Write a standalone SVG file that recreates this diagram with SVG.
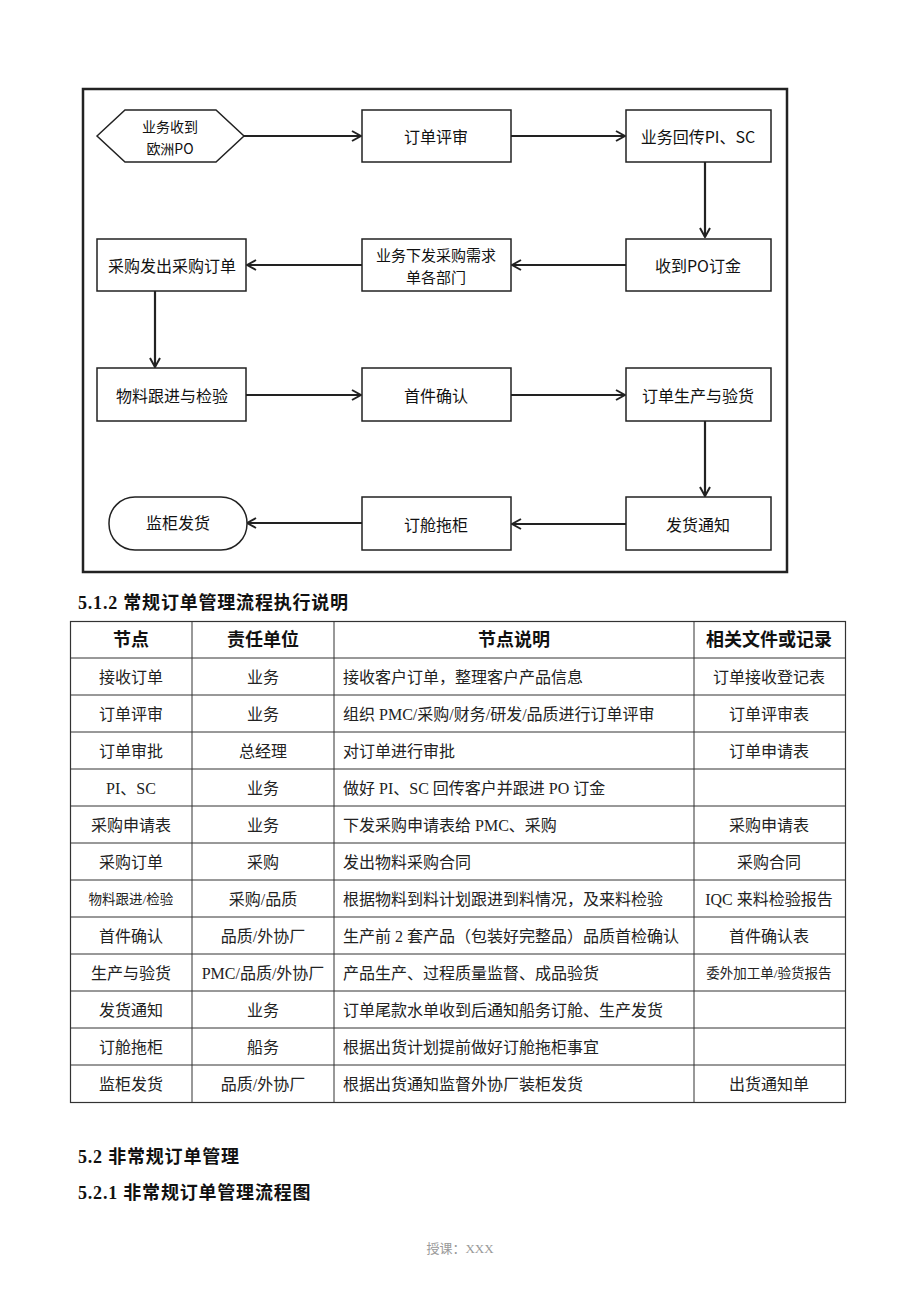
<svg xmlns="http://www.w3.org/2000/svg" width="920" height="1302" viewBox="0 0 920 1302">
<style>
.bx{fill:#fff;stroke:#222;stroke-width:1.5}
.t{font-family:"Noto Sans CJK SC","Liberation Sans",sans-serif;font-size:16px;fill:#111;text-anchor:middle;dominant-baseline:central}
.c{stroke:#222;stroke-width:2.2;fill:none}
.h{font-family:"Liberation Serif","Noto Sans CJK SC",serif;font-size:18px;font-weight:bold;fill:#111;letter-spacing:0.8px}
.th{font-family:"Liberation Serif","Noto Sans CJK SC",serif;font-size:18px;font-weight:bold;fill:#111;text-anchor:middle;dominant-baseline:central}
.td{font-family:"Liberation Serif","Noto Sans CJK SC",serif;font-size:16px;fill:#222;dominant-baseline:central}
.m{text-anchor:middle}
.s{font-size:13.5px}
.g{stroke:#333;stroke-width:1}
</style>
<defs>
<marker id="ah" viewBox="0 0 12 12" refX="11" refY="6" markerWidth="12" markerHeight="12" markerUnits="userSpaceOnUse" orient="auto">
<path d="M2,1 L11,6 L2,11" fill="none" stroke="#222" stroke-width="2"/>
</marker>
</defs>
<rect width="920" height="1302" fill="#fff"/>
<rect x="83" y="89" width="704" height="483" fill="none" stroke="#222" stroke-width="2.5"/>

<g id="connectors">
<line class="c" x1="244" y1="136" x2="361" y2="136" marker-end="url(#ah)"/>
<line class="c" x1="511" y1="136" x2="625" y2="136" marker-end="url(#ah)"/>
<line class="c" x1="705" y1="162" x2="705" y2="237" marker-end="url(#ah)"/>
<line class="c" x1="626" y1="265" x2="512" y2="265" marker-end="url(#ah)"/>
<line class="c" x1="362" y1="265" x2="247" y2="265" marker-end="url(#ah)"/>
<line class="c" x1="155" y1="291" x2="155" y2="367" marker-end="url(#ah)"/>
<line class="c" x1="246" y1="395" x2="361" y2="395" marker-end="url(#ah)"/>
<line class="c" x1="511" y1="395" x2="625" y2="395" marker-end="url(#ah)"/>
<line class="c" x1="705" y1="421" x2="705" y2="496" marker-end="url(#ah)"/>
<line class="c" x1="626" y1="524" x2="512" y2="524" marker-end="url(#ah)"/>
<line class="c" x1="362" y1="523" x2="247" y2="523" marker-end="url(#ah)"/>
</g>

<g id="n1"><polygon class="bx" points="97,136 125,110 216,110 244,136 216,162 125,162"/><text class="t" x="170" y="126" style="font-size:14px">业务收到</text><text class="t" x="170" y="148" style="font-size:14px">欧洲PO</text></g>
<g id="n2"><rect class="bx" x="362" y="110" width="149" height="52"/><text class="t" x="436" y="136">订单评审</text></g>
<g id="n3"><rect class="bx" x="626" y="110" width="145" height="52"/><text class="t" x="698" y="136">业务回传PI、SC</text></g>
<g id="n4"><rect class="bx" x="626" y="239" width="145" height="52"/><text class="t" x="698" y="265">收到PO订金</text></g>
<g id="n5"><rect class="bx" x="362" y="239" width="149" height="52"/><text class="t" x="436" y="254" style="font-size:15px">业务下发采购需求</text><text class="t" x="436" y="276" style="font-size:15px">单各部门</text></g>
<g id="n6"><rect class="bx" x="97" y="239" width="149" height="52"/><text class="t" x="172" y="265">采购发出采购订单</text></g>
<g id="n7"><rect class="bx" x="97" y="368" width="149" height="53"/><text class="t" x="172" y="395">物料跟进与检验</text></g>
<g id="n8"><rect class="bx" x="362" y="368" width="149" height="53"/><text class="t" x="436" y="395">首件确认</text></g>
<g id="n9"><rect class="bx" x="626" y="368" width="145" height="53"/><text class="t" x="698" y="395">订单生产与验货</text></g>
<g id="n10"><rect class="bx" x="626" y="497" width="145" height="53"/><text class="t" x="698" y="524">发货通知</text></g>
<g id="n11"><rect class="bx" x="362" y="497" width="149" height="53"/><text class="t" x="436" y="524">订舱拖柜</text></g>
<g id="n12"><rect class="bx" x="109" y="497" width="138" height="53" rx="26" ry="26"/><text class="t" x="178" y="522">监柜发货</text></g>

<text class="h" x="78" y="609">5.1.2 常规订单管理流程执行说明</text>

<g id="table">
<rect x="70.5" y="621.5" width="775" height="481" fill="none" stroke="#333" stroke-width="1.2"/>
<g class="g">
<line x1="192" y1="621" x2="192" y2="1102"/>
<line x1="334" y1="621" x2="334" y2="1102"/>
<line x1="694" y1="621" x2="694" y2="1102"/>
<line x1="70" y1="658" x2="845" y2="658"/>
<line x1="70" y1="695" x2="845" y2="695"/>
<line x1="70" y1="732" x2="845" y2="732"/>
<line x1="70" y1="769" x2="845" y2="769"/>
<line x1="70" y1="806" x2="845" y2="806"/>
<line x1="70" y1="843" x2="845" y2="843"/>
<line x1="70" y1="880" x2="845" y2="880"/>
<line x1="70" y1="917" x2="845" y2="917"/>
<line x1="70" y1="954" x2="845" y2="954"/>
<line x1="70" y1="991" x2="845" y2="991"/>
<line x1="70" y1="1028" x2="845" y2="1028"/>
<line x1="70" y1="1065" x2="845" y2="1065"/>
</g>
<text class="th" x="131" y="640">节点</text>
<text class="th" x="263" y="640">责任单位</text>
<text class="th" x="514" y="640">节点说明</text>
<text class="th" x="769" y="640">相关文件或记录</text>

<text class="td m" x="131" y="677">接收订单</text><text class="td m" x="263" y="677">业务</text><text class="td" x="343" y="677">接收客户订单，整理客户产品信息</text><text class="td m" x="769" y="677">订单接收登记表</text>
<text class="td m" x="131" y="714">订单评审</text><text class="td m" x="263" y="714">业务</text><text class="td" x="343" y="714">组织 PMC/采购/财务/研发/品质进行订单评审</text><text class="td m" x="769" y="714">订单评审表</text>
<text class="td m" x="131" y="751">订单审批</text><text class="td m" x="263" y="751">总经理</text><text class="td" x="343" y="751">对订单进行审批</text><text class="td m" x="769" y="751">订单申请表</text>
<text class="td m" x="131" y="788">PI、SC</text><text class="td m" x="263" y="788">业务</text><text class="td" x="343" y="788">做好 PI、SC 回传客户并跟进 PO 订金</text>
<text class="td m" x="131" y="825">采购申请表</text><text class="td m" x="263" y="825">业务</text><text class="td" x="343" y="825">下发采购申请表给 PMC、采购</text><text class="td m" x="769" y="825">采购申请表</text>
<text class="td m" x="131" y="862">采购订单</text><text class="td m" x="263" y="862">采购</text><text class="td" x="343" y="862">发出物料采购合同</text><text class="td m" x="769" y="862">采购合同</text>
<text class="td m s" x="131" y="899">物料跟进/检验</text><text class="td m" x="263" y="899">采购/品质</text><text class="td" x="343" y="899">根据物料到料计划跟进到料情况，及来料检验</text><text class="td m" x="769" y="899">IQC 来料检验报告</text>
<text class="td m" x="131" y="936">首件确认</text><text class="td m" x="263" y="936">品质/外协厂</text><text class="td" x="343" y="936">生产前 2 套产品（包装好完整品）品质首检确认</text><text class="td m" x="769" y="936">首件确认表</text>
<text class="td m" x="131" y="973">生产与验货</text><text class="td m" x="263" y="973">PMC/品质/外协厂</text><text class="td" x="343" y="973">产品生产、过程质量监督、成品验货</text><text class="td m s" x="769" y="973">委外加工单/验货报告</text>
<text class="td m" x="131" y="1010">发货通知</text><text class="td m" x="263" y="1010">业务</text><text class="td" x="343" y="1010">订单尾款水单收到后通知船务订舱、生产发货</text>
<text class="td m" x="131" y="1047">订舱拖柜</text><text class="td m" x="263" y="1047">船务</text><text class="td" x="343" y="1047">根据出货计划提前做好订舱拖柜事宜</text>
<text class="td m" x="131" y="1084">监柜发货</text><text class="td m" x="263" y="1084">品质/外协厂</text><text class="td" x="343" y="1084">根据出货通知监督外协厂装柜发货</text><text class="td m" x="769" y="1084">出货通知单</text>
</g>

<text class="h" x="78" y="1163">5.2 非常规订单管理</text>
<text class="h" x="78" y="1199">5.2.1 非常规订单管理流程图</text>
<text x="460" y="1253" style="font-family:'Liberation Serif','Noto Sans CJK SC',serif;font-size:13px;fill:#999;text-anchor:middle">授课：XXX</text>
</svg>
